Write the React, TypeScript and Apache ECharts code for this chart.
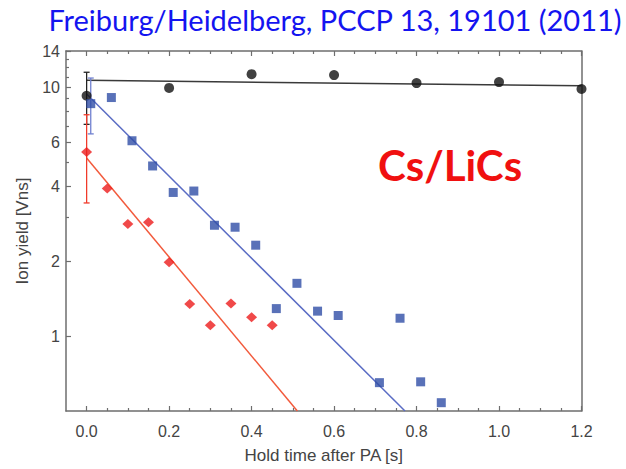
import React, { useEffect, useRef } from "react";
import * as echarts from "echarts";

// ---- data ----
const xMajorTicks = [0, 0.2, 0.4, 0.6, 0.8, 1.0, 1.2];
const xMinorTicks = [0.05, 0.1, 0.15, 0.25, 0.3, 0.35, 0.45, 0.5, 0.55, 0.65, 0.7, 0.75, 0.85, 0.9, 0.95, 1.05, 1.1, 1.15];
const yMajorTicks = [1, 2, 4, 6, 10, 14];
const yMinorTicks = [3, 5, 7, 8, 9, 11, 12, 13];

const blackX = [0, 0.2, 0.4, 0.6, 0.8, 1.0, 1.2];
const blackY = [9.25, 9.95, 11.3, 11.2, 10.4, 10.5, 9.85];

const blueX = [0.01, 0.06, 0.11, 0.16, 0.21, 0.26, 0.31, 0.36, 0.41, 0.46, 0.51, 0.56, 0.61, 0.71, 0.76, 0.81, 0.86];
const blueY = [8.6, 9.1, 6.1, 4.83, 3.78, 3.83, 2.79, 2.74, 2.32, 1.29, 1.63, 1.26, 1.21, 0.65, 1.18, 0.655, 0.54];

const redX = [0, 0.05, 0.1, 0.15, 0.2, 0.25, 0.3, 0.35, 0.4, 0.45];
const redY = [5.5, 3.92, 2.82, 2.87, 1.98, 1.345, 1.107, 1.353, 1.19, 1.107];

// error bars: [x, low, high]
const blackErr = [0, 7.1, 11.5];
const blueErr = [0.01, 6.5, 10.9];
const redErr = [0, 3.43, 7.76];

// exponential fits (straight on log axis): endpoints
const blackFitX = [0, 1.2];
const blackFitY = [10.67, 10.15];
const blueFitX = [0, 0.772];
const blueFitY = [9.4, 0.5];
const redFitX = [0, 0.511];
const redFitY = [5.2, 0.5];

const zip = (xs: number[], ys: number[]) => xs.map((x, i) => [x, ys[i]]);

const AXIS_COLOR = "#6e6e6e";
const FONT = "Liberation Sans";

export default function App() {
  const ref = useRef<HTMLDivElement>(null);
  useEffect(() => {
    if (!ref.current) return;
    const chart = echarts.init(ref.current, undefined, { renderer: "svg" });

    const errRender = (color: string) => (params: any, api: any) => {
      const x = api.value(0);
      const lo = api.value(1);
      const hi = api.value(2);
      const p1 = api.coord([x, lo]);
      const p2 = api.coord([x, hi]);
      const w = 3;
      const st = { stroke: color, lineWidth: 1.3 };
      return {
        type: "group",
        children: [
          { type: "line", shape: { x1: p1[0], y1: p1[1], x2: p2[0], y2: p2[1] }, style: st },
          { type: "line", shape: { x1: p1[0] - w, y1: p1[1], x2: p1[0] + w, y2: p1[1] }, style: st },
          { type: "line", shape: { x1: p2[0] - w, y1: p2[1], x2: p2[0] + w, y2: p2[1] }, style: st },
        ],
      };
    };

    const xBase = { type: "value", min: -0.05, max: 1.2, splitLine: { show: false } };
    const yBase = { type: "log", logBase: 10, min: 0.5, max: 14, splitLine: { show: false } };
    const line = (show: boolean) => ({ show, onZero: false, lineStyle: { color: AXIS_COLOR, width: 1.5 } });
    const tick = (vals: number[], len: number) => ({
      show: true,
      inside: true,
      length: len,
      customValues: vals,
      lineStyle: { color: AXIS_COLOR, width: 1.2 },
    });

    const option: any = {
      animation: false,
      backgroundColor: "#ffffff",
      grid: { left: 66, top: 51, right: 44.5, bottom: 58, containLabel: false },
      xAxis: [
        {
          ...xBase,
          position: "bottom",
          name: "Hold time after PA [s]",
          nameLocation: "middle",
          nameGap: 36,
          nameTextStyle: { fontFamily: FONT, fontSize: 17, color: "#444" },
          axisLine: line(true),
          axisTick: tick(xMajorTicks, 5),
          axisLabel: {
            show: true,
            customValues: xMajorTicks,
            margin: 12,
            fontFamily: FONT,
            fontSize: 16,
            color: "#444",
            formatter: (v: number) => v.toFixed(1),
          },
        },
        { ...xBase, position: "bottom", axisLine: line(false), axisTick: tick(xMinorTicks, 3), axisLabel: { show: false } },
        { ...xBase, position: "top", axisLine: line(true), axisTick: tick(xMajorTicks, 5), axisLabel: { show: false } },
        { ...xBase, position: "top", axisLine: line(false), axisTick: tick(xMinorTicks, 3), axisLabel: { show: false } },
      ],
      yAxis: [
        {
          ...yBase,
          position: "left",
          name: "Ion yield [Vns]",
          nameLocation: "middle",
          nameGap: 26,
          nameRotate: 90,
          nameTextStyle: { fontFamily: FONT, fontSize: 17, color: "#444" },
          axisLine: line(true),
          axisTick: tick(yMajorTicks, 5),
          axisLabel: {
            show: true,
            customValues: yMajorTicks,
            margin: 6,
            fontFamily: FONT,
            fontSize: 16,
            color: "#444",
            formatter: (v: number) => String(Math.round(v)),
          },
        },
        { ...yBase, position: "left", axisLine: line(false), axisTick: tick(yMinorTicks, 3), axisLabel: { show: false } },
        { ...yBase, position: "right", axisLine: line(true), axisTick: { show: false }, axisLabel: { show: false } },
      ],
      series: [
        {
          type: "line",
          data: zip(blackFitX, blackFitY),
          showSymbol: false,
          symbol: "none",
          lineStyle: { color: "#3a3a3a", width: 1.5 },
          z: 2,
        },
        {
          type: "line",
          data: zip(blueFitX, blueFitY),
          showSymbol: false,
          symbol: "none",
          lineStyle: { color: "#5a6cc4", width: 1.5 },
          z: 2,
        },
        {
          type: "line",
          data: zip(redFitX, redFitY),
          showSymbol: false,
          symbol: "none",
          lineStyle: { color: "#f25a3c", width: 1.5 },
          z: 2,
        },
        { type: "custom", renderItem: errRender("#222"), data: [blackErr], encode: { x: 0, y: [1, 2] }, z: 3 },
        { type: "custom", renderItem: errRender("#7080d0"), data: [blueErr], encode: { x: 0, y: [1, 2] }, z: 3 },
        { type: "custom", renderItem: errRender("#f03a2a"), data: [redErr], encode: { x: 0, y: [1, 2] }, z: 3 },
        {
          type: "scatter",
          data: zip(blackX, blackY),
          symbol: "circle",
          symbolSize: 10,
          itemStyle: { color: "#111" },
          z: 4,
        },
        {
          type: "scatter",
          data: zip(blueX, blueY),
          symbol: "rect",
          symbolSize: 9,
          itemStyle: { color: "#2f4ea6" },
          z: 5,
        },
        {
          type: "scatter",
          data: zip(redX, redY),
          symbol: "diamond",
          symbolSize: [11, 10],
          itemStyle: { color: "#ec1c1c" },
          z: 5,
        },
      ],
      graphic: [
        {
          type: "text",
          x: 335,
          y: 19,
          style: {
            text: "Freiburg/Heidelberg, PCCP 13, 19101 (2011)",
            font: "29px Lato",
            fill: "#1414f0",
            textAlign: "center",
            textVerticalAlign: "middle",
          },
        },
        {
          type: "text",
          x: 450,
          y: 165,
          style: {
            text: "Cs/LiCs",
            font: "bold 42px Lato",
            fill: "#f01010",
            textAlign: "center",
            textVerticalAlign: "middle",
          },
        },
      ],
    };
    chart.setOption(option);
    return () => chart.dispose();
  }, []);
  return <div ref={ref} style={{ position: "fixed", left: 0, top: 0, width: 626, height: 469 }} />;
}
